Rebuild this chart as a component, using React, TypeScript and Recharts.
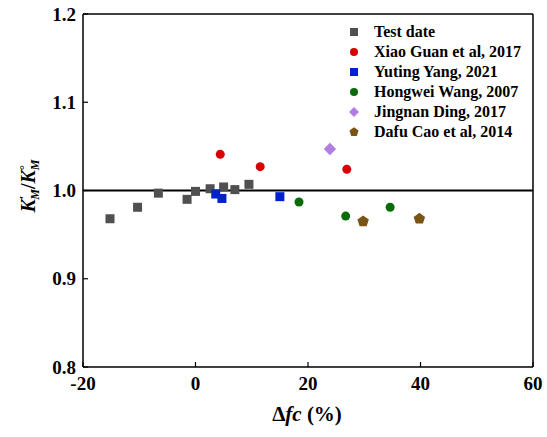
import { ScatterChart, Scatter, XAxis, YAxis, ReferenceLine, Legend } from "recharts";

// values (Δfc %, K'M/K°M)
const testDate = [
  { x: -15.2, y: 0.968 }, { x: -10.3, y: 0.981 }, { x: -6.6, y: 0.997 },
  { x: -1.5, y: 0.99 }, { x: 0, y: 0.999 }, { x: 2.6, y: 1.002 },
  { x: 5.0, y: 1.004 }, { x: 7.0, y: 1.001 }, { x: 9.5, y: 1.007 },
];
const xiaoGuan = [{ x: 4.4, y: 1.041 }, { x: 11.5, y: 1.027 }, { x: 26.9, y: 1.024 }];
const yutingYang = [{ x: 3.6, y: 0.996 }, { x: 4.7, y: 0.991 }, { x: 15.0, y: 0.993 }];
const hongweiWang = [{ x: 18.4, y: 0.987 }, { x: 26.7, y: 0.971 }, { x: 34.6, y: 0.981 }];
const jingnanDing = [{ x: 23.9, y: 1.047 }];
const dafuCao = [{ x: 29.8, y: 0.965 }, { x: 39.8, y: 0.968 }];

const xTicks = [-20, 0, 20, 40, 60];
const yTicks = [0.8, 0.9, 1.0, 1.1, 1.2];

const serif = "'Times New Roman', 'Liberation Serif', serif";

type Kind = "square" | "circle" | "diamond" | "pentagon";

const series: { name: string; data: { x: number; y: number }[]; color: string; kind: Kind }[] = [
  { name: "Test date", data: testDate, color: "#505050", kind: "square" },
  { name: "Xiao Guan et al, 2017", data: xiaoGuan, color: "#d80000", kind: "circle" },
  { name: "Yuting Yang, 2021", data: yutingYang, color: "#0022c8", kind: "square" },
  { name: "Hongwei Wang, 2007", data: hongweiWang, color: "#0b6b0b", kind: "circle" },
  { name: "Jingnan Ding, 2017", data: jingnanDing, color: "#b07de0", kind: "diamond" },
  { name: "Dafu Cao et al, 2014", data: dafuCao, color: "#7a5414", kind: "pentagon" },
];

const Mark = ({ cx, cy, kind, color, s }: { cx: number; cy: number; kind: Kind; color: string; s: number }) => {
  if (kind === "square") return <rect x={cx - s / 2} y={cy - s / 2} width={s} height={s} fill={color} />;
  if (kind === "circle") return <circle cx={cx} cy={cy} r={s / 2} fill={color} />;
  if (kind === "diamond") {
    const r = s * 0.62;
    return <polygon points={`${cx},${cy - r} ${cx + r},${cy} ${cx},${cy + r} ${cx - r},${cy}`} fill={color} />;
  }
  const r = s * 0.6;
  const pts = [0, 1, 2, 3, 4]
    .map((i) => {
      const a = -Math.PI / 2 + (i * 2 * Math.PI) / 5;
      return `${cx + r * Math.cos(a)},${cy + r * Math.sin(a)}`;
    })
    .join(" ");
  return <polygon points={pts} fill={color} />;
};

const renderLegend = () => (
  <div style={{ fontFamily: serif, fontWeight: "bold", fontSize: 16, color: "#000" }}>
    {series.map((s) => (
      <div key={s.name} style={{ display: "flex", alignItems: "center", height: 20 }}>
        <svg width={14} height={14} style={{ marginRight: 13 }}>
          <Mark cx={7} cy={7} kind={s.kind} color={s.color} s={8} />
        </svg>
        <span>{s.name}</span>
      </div>
    ))}
  </div>
);

const XLabel = () => (
  <text x={307} y={421} textAnchor="middle" style={{ fontFamily: serif }} fontWeight="bold" fontSize={21} fill="#000">
    <tspan>Δ</tspan>
    <tspan fontStyle="italic">fc</tspan>
    <tspan> (%)</tspan>
  </text>
);

const YLabel = () => (
  <text
    x={35}
    y={186}
    transform="rotate(-90, 35, 186)"
    textAnchor="middle"
    style={{ fontFamily: serif }}
    fontWeight="bold"
    fontSize={20}
    fill="#000"
  >
    <tspan fontStyle="italic">K</tspan>
    <tspan fontSize={12} dy={-7}>′</tspan>
    <tspan fontSize={12} fontStyle="italic" dx={-4} dy={11}>M</tspan>
    <tspan dy={-4}>/</tspan>
    <tspan fontStyle="italic">K</tspan>
    <tspan fontSize={12} dy={-7}>°</tspan>
    <tspan fontSize={12} fontStyle="italic" dx={-5} dy={11}>M</tspan>
  </text>
);

const tickStyle = { fontFamily: serif, fontWeight: "bold" as const, fontSize: 19, fill: "#000" };

export default function App() {
  return (
    <div style={{ position: "absolute", left: 0, top: 0, background: "#fff" }}>
      <ScatterChart width={547} height={437} margin={{ top: 14, right: 14, bottom: 0, left: 23 }}>
        <XAxis
          type="number"
          dataKey="x"
          domain={[-20, 60]}
          ticks={xTicks}
          height={70}
          tick={tickStyle}
          tickSize={-5}
          tickMargin={15}
          axisLine={{ stroke: "#000", strokeWidth: 1.5 }}
          tickLine={{ stroke: "#000", strokeWidth: 1.2 }}
          label={{ content: () => <XLabel /> }}
        />
        <YAxis
          type="number"
          dataKey="y"
          domain={[0.8, 1.2]}
          ticks={yTicks}
          width={60}
          tick={tickStyle}
          tickSize={-5}
          tickMargin={12}
          tickFormatter={(v: number) => v.toFixed(1)}
          axisLine={{ stroke: "#000", strokeWidth: 1.5 }}
          tickLine={{ stroke: "#000", strokeWidth: 1.2 }}
          label={{ content: () => <YLabel /> }}
        />
        <ReferenceLine y={1.2} stroke="#000" strokeWidth={1.5} />
        <ReferenceLine x={60} stroke="#000" strokeWidth={1.5} />
        <ReferenceLine y={1.0} stroke="#000" strokeWidth={2} />
        {series.map((s) => (
          <Scatter
            key={s.name}
            name={s.name}
            data={s.data}
            isAnimationActive={false}
            shape={(p: any) => (
              <Mark cx={p.cx} cy={p.cy} kind={s.kind} color={s.color} s={s.kind === "diamond" || s.kind === "pentagon" ? 10 : 9} />
            )}
          />
        ))}
        <Legend
          layout="horizontal"
          verticalAlign="middle"
          align="center"
          content={renderLegend}
          wrapperStyle={{ position: "absolute", top: 22, left: 347, width: "auto", height: "auto" }}
        />
      </ScatterChart>
    </div>
  );
}
